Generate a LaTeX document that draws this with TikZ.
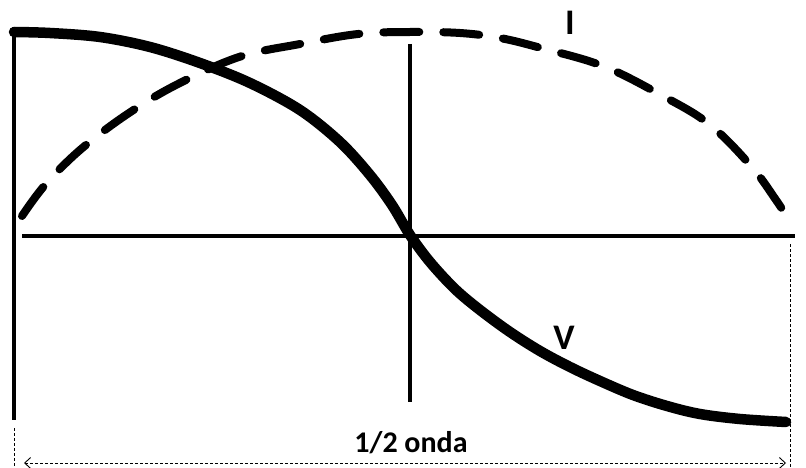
\documentclass[tikz,border=0pt]{standalone}
\usepackage{fontspec}
\setmainfont{Carlito}
\usetikzlibrary{arrows.meta}
\begin{document}
\begin{tikzpicture}[x=1pt,y=-1pt,
  axisline/.style={line width=3.2pt},
  thindash/.style={line width=0.9pt, dash pattern=on 3pt off 2pt},
  vcurve/.style={line width=10.5pt, line cap=round, line join=round},
  icurve/.style={line width=8pt, dash pattern=on 36pt off 24pt, line cap=round},
  lbl/.style={font=\fontsize{36}{40}\selectfont\bfseries, inner sep=0pt, anchor=base},
  dimlbl/.style={font=\fontsize{30}{34}\selectfont\bfseries, inner sep=0pt, anchor=base}]
\useasboundingbox (0,0) rectangle (806,468);
% coordinates
\coordinate (lt) at (14,27);
\coordinate (lb) at (14,420);
\coordinate (lbd) at (14,428);
\coordinate (lend) at (14,468);
\coordinate (ct) at (410,44);
\coordinate (cb) at (410,402);
\coordinate (axl) at (22,236);
\coordinate (axr) at (795,236);
\coordinate (rt) at (790,244);
\coordinate (rb) at (790,468);
\coordinate (al) at (24,463);
\coordinate (ar) at (786,463);
% frame lines
\draw[axisline] (lt) -- (lb);
\draw[axisline] (ct) -- (cb);
\draw[axisline] (axl) -- (axr);
\draw[thindash] (lbd) -- (lend);
\draw[thindash] (rt) -- (rb);
\draw[thindash, {Straight Barb[length=6pt,width=11pt]}-{Straight Barb[length=6pt,width=11pt]}] (al) -- (ar);
% current I (dashed)
\draw[icurve] plot[smooth, tension=0.6] coordinates {(22,216) (45,185) (80,150) (126,115) (176,85) (239,57) (300,44) (358,34) (410,32) (460,33) (500,38) (541,48) (603,66) (661,95) (709,124) (751,166) (776,200) (789,220)};
% voltage V
\draw[vcurve] plot[smooth, tension=0.55] coordinates {(14,32) (50,33) (100,37) (150,47) (200,63) (250,83) (300,110) (340,142) (370,175) (392,205) (410,235) (430,262) (455,289) (480,310) (510,332) (540,351) (570,367) (600,381) (633,395) (667,406) (700,414) (740,419) (786,422)};
% labels
\node[lbl] (labI) at (570,35) {I};
\node[lbl] (labV) at (564,349) {V};
\node[dimlbl] (labD) at (411,452) {1/2 onda};
\end{tikzpicture}
\end{document}
